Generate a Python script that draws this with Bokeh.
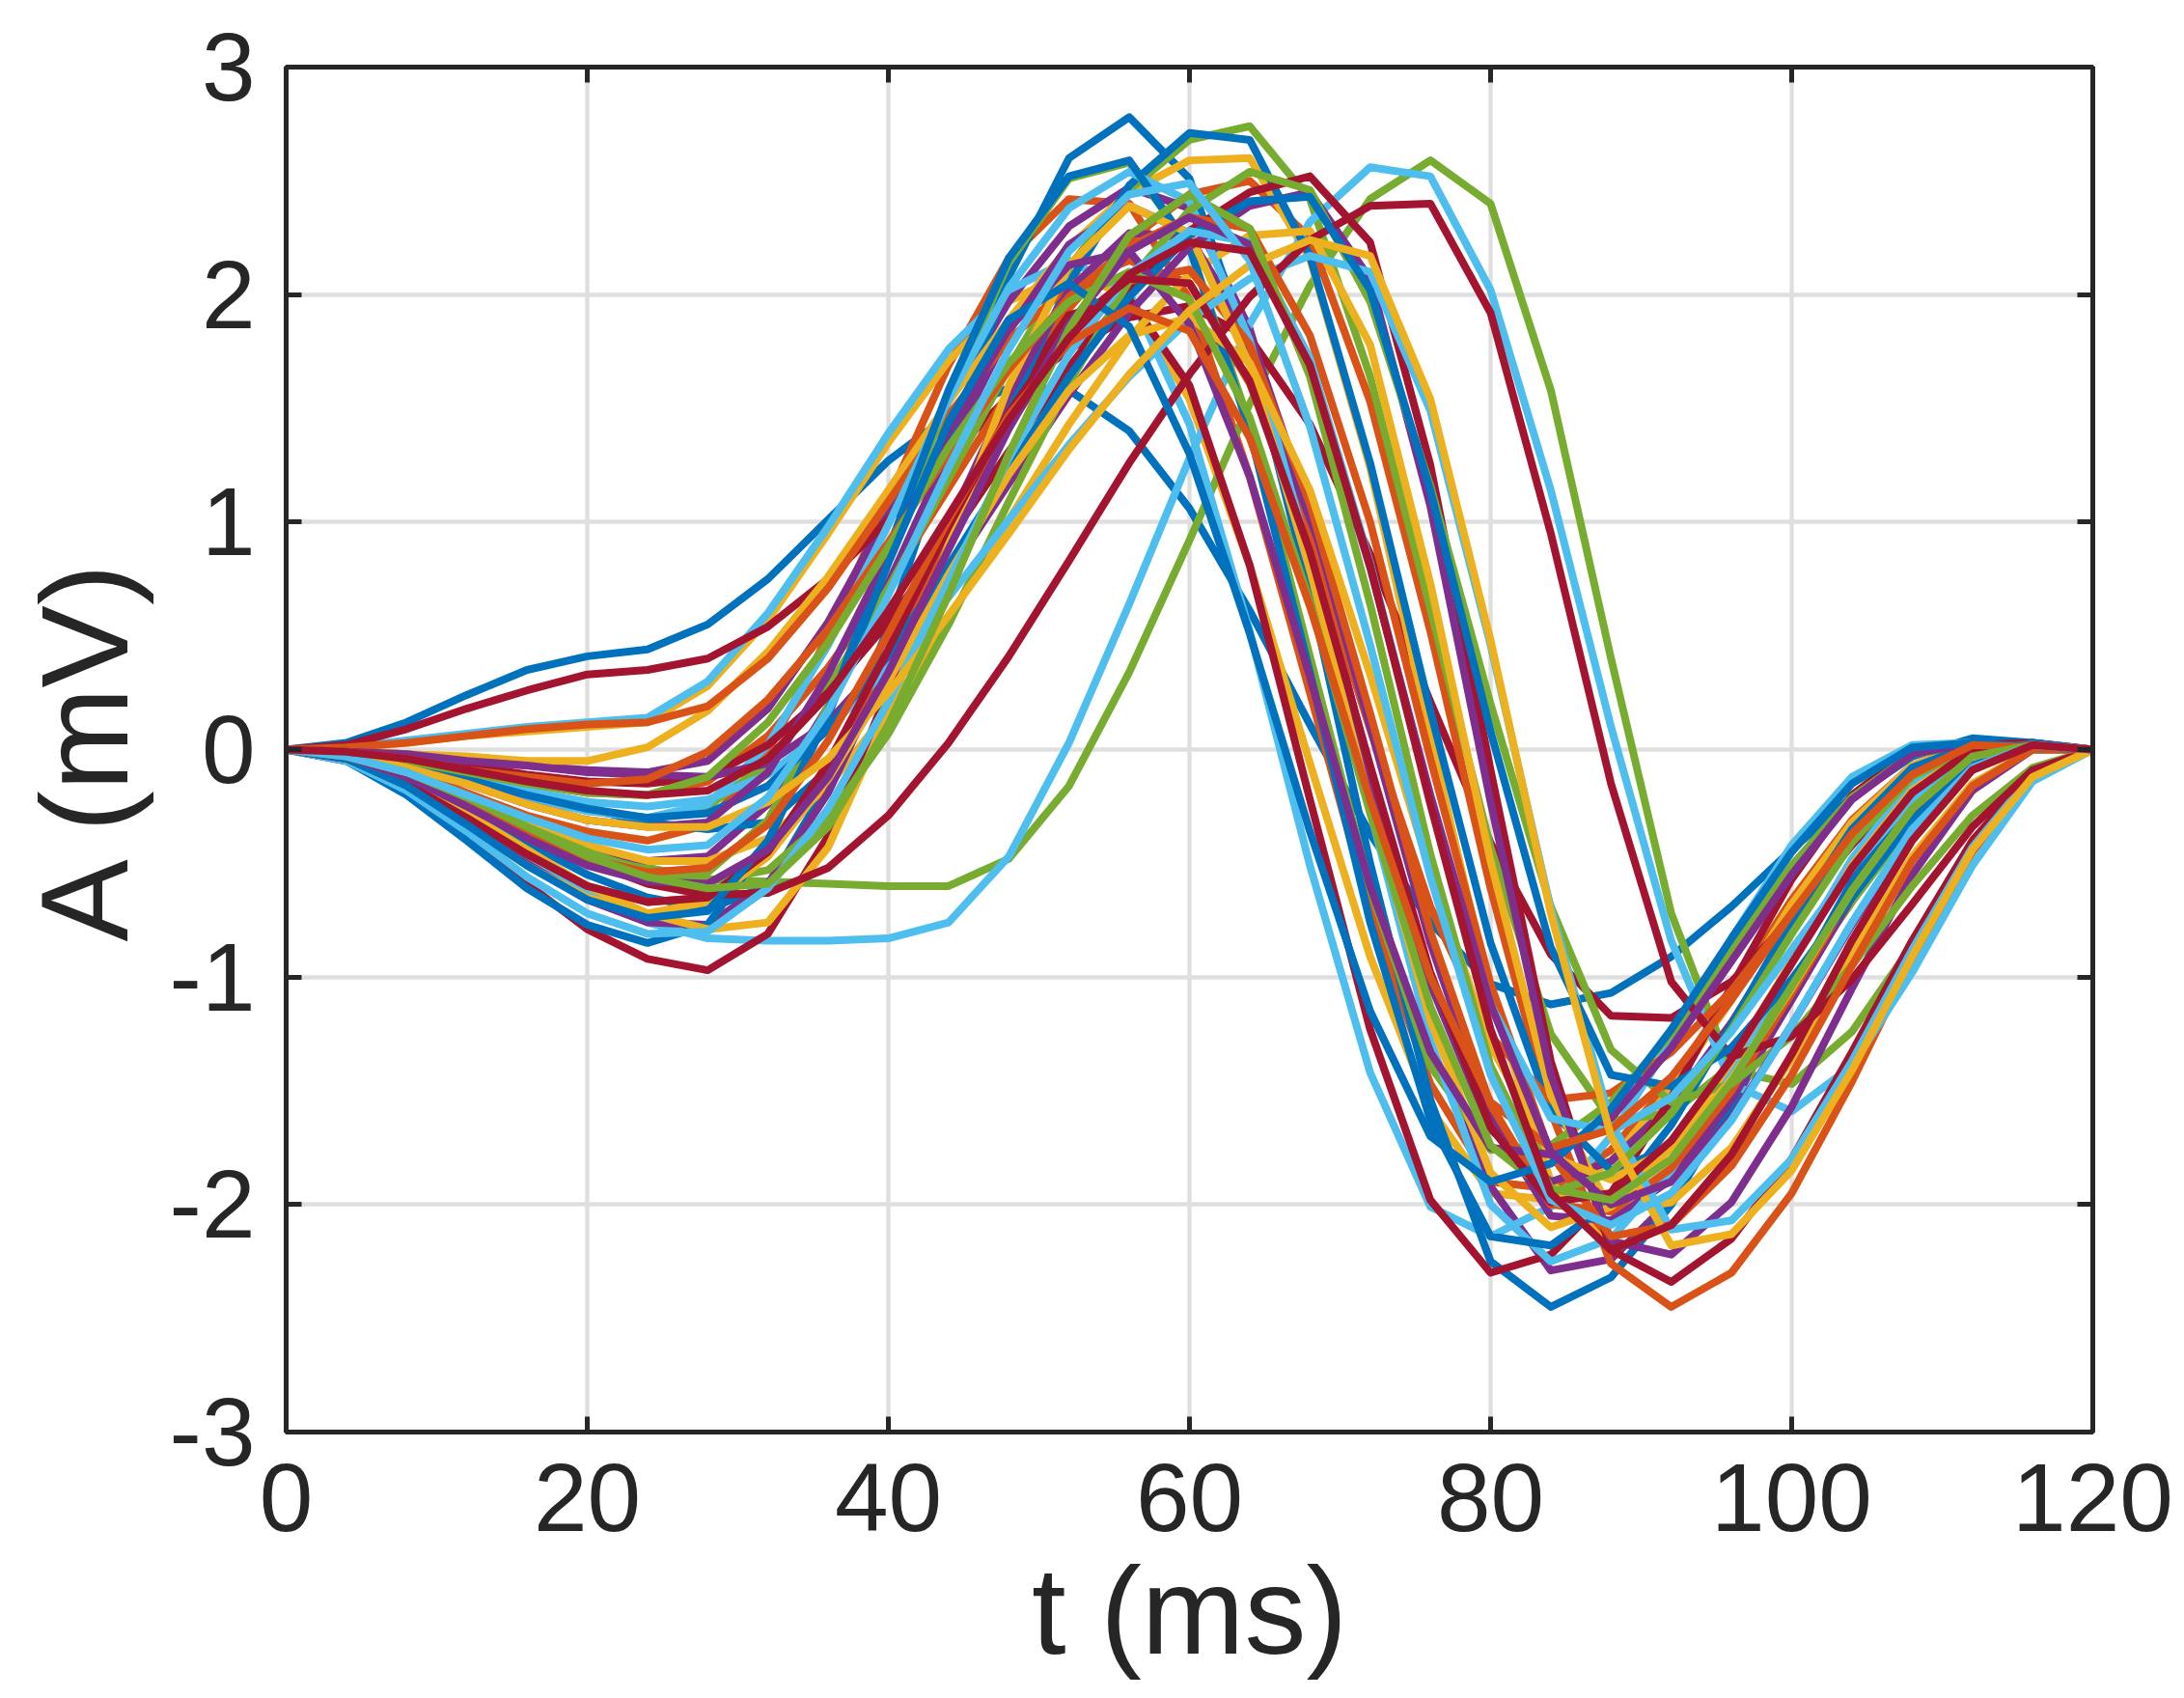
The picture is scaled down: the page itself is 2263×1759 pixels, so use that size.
from bokeh.plotting import figure
from bokeh.models import Range1d, LinearAxis, FixedTicker
from bokeh.embed import file_html
from bokeh.resources import INLINE

# time axis (ms), common sampling of every waveform
t_ms = [0, 4, 8, 12, 16, 20, 24, 28, 32, 36, 40, 44, 48, 52, 56, 60,
        64, 68, 72, 76, 80, 84, 88, 92, 96, 100, 104, 108, 112, 116, 120]

x_ticks = [0, 20, 40, 60, 80, 100, 120]
x_tick_labels = ["0", "20", "40", "60", "80", "100", "120"]
y_ticks = [-3, -2, -1, 0, 1, 2, 3]
y_tick_labels = ["-3", "-2", "-1", "0", "1", "2", "3"]

# waveforms (mV)
blue_1 = [0, 0.03, 0.12, 0.24, 0.35, 0.41, 0.44, 0.55, 0.75, 1.01, 1.27, 1.47, 1.59, 1.58, 1.40, 1.06, 0.61, 0.11, -0.37, -0.76, -1.03, -1.12, -1.07, -0.91, -0.69, -0.44, -0.21, -0.03, 0.05, 0.03, 0]
blue_2 = [0, -0.03, -0.12, -0.26, -0.41, -0.55, -0.65, -0.70, -0.60, -0.15, 0.54, 1.34, 2.08, 2.60, 2.78, 2.51, 1.75, 0.69, -0.50, -1.54, -2.25, -2.45, -2.32, -2.00, -1.56, -1.06, -0.58, -0.21, 0.01, 0.02, 0]
blue_3 = [0, -0.02, -0.06, -0.12, -0.19, -0.26, -0.32, -0.35, -0.32, -0.09, 0.34, 0.89, 1.49, 2.05, 2.48, 2.71, 2.68, 2.17, 1.26, 0.17, -0.85, -1.59, -1.85, -1.75, -1.47, -1.07, -0.64, -0.27, -0.03, 0.03, 0]
blue_4 = [0, -0.05, -0.20, -0.40, -0.61, -0.77, -0.85, -0.77, -0.41, 0.17, 0.88, 1.58, 2.16, 2.52, 2.59, 2.21, 1.40, 0.34, -0.76, -1.63, -2.14, -2.18, -1.99, -1.65, -1.21, -0.75, -0.35, -0.08, 0.02, 0.01, 0]
blue_5 = [0, -0.02, -0.07, -0.13, -0.20, -0.26, -0.30, -0.28, -0.16, 0.09, 0.42, 0.81, 1.23, 1.64, 1.99, 2.26, 2.41, 2.43, 2.02, 1.14, 0.08, -0.87, -1.43, -1.48, -1.31, -1.01, -0.65, -0.31, -0.07, 0.02, 0]
blue_6 = [0, -0.04, -0.16, -0.33, -0.51, -0.66, -0.74, -0.71, -0.40, 0.15, 0.82, 1.44, 1.89, 2.05, 1.86, 1.30, 0.51, -0.36, -1.15, -1.70, -1.90, -1.82, -1.58, -1.23, -0.83, -0.45, -0.15, 0.01, 0.03, 0.01, 0]

orange_1 = [0, -0.02, -0.09, -0.19, -0.29, -0.36, -0.40, -0.33, -0.01, 0.50, 1.10, 1.69, 2.16, 2.42, 2.40, 1.98, 1.20, 0.25, -0.71, -1.47, -1.90, -1.93, -1.76, -1.46, -1.07, -0.66, -0.31, -0.07, 0.02, 0.01, 0]
orange_2 = [0, -0.01, -0.05, -0.10, -0.15, -0.19, -0.20, -0.14, 0.06, 0.36, 0.73, 1.15, 1.57, 1.94, 2.24, 2.44, 2.50, 2.25, 1.53, 0.52, -0.61, -1.59, -2.26, -2.45, -2.30, -1.95, -1.46, -0.92, -0.45, -0.12, 0]
orange_3 = [0, 0.01, 0.03, 0.06, 0.09, 0.11, 0.12, 0.19, 0.40, 0.71, 1.09, 1.47, 1.80, 2.04, 2.15, 2.05, 1.61, 0.92, 0.09, -0.69, -1.26, -1.54, -1.51, -1.33, -1.06, -0.72, -0.40, -0.14, 0.00, 0.02, 0]
orange_4 = [0, -0.04, -0.15, -0.30, -0.46, -0.60, -0.67, -0.65, -0.46, -0.09, 0.39, 0.92, 1.42, 1.82, 2.06, 2.11, 1.78, 1.08, 0.16, -0.80, -1.56, -2.00, -2.03, -1.84, -1.50, -1.07, -0.63, -0.26, -0.03, 0.02, 0]
orange_5 = [0, -0.01, -0.04, -0.09, -0.12, -0.15, -0.13, -0.01, 0.22, 0.53, 0.91, 1.30, 1.67, 1.99, 2.21, 2.34, 2.29, 1.82, 1.00, -0.04, -1.03, -1.78, -2.14, -2.09, -1.83, -1.43, -0.95, -0.49, -0.16, 0.00, 0]
orange_6 = [0, -0.03, -0.12, -0.24, -0.37, -0.48, -0.54, -0.52, -0.33, 0.04, 0.51, 1.01, 1.47, 1.79, 1.94, 1.84, 1.37, 0.63, -0.22, -1.00, -1.55, -1.75, -1.67, -1.44, -1.10, -0.72, -0.37, -0.11, 0.02, 0.01, 0]

yellow_1 = [0, 0.01, 0.03, 0.06, 0.08, 0.10, 0.12, 0.28, 0.57, 0.95, 1.35, 1.71, 1.97, 2.10, 1.99, 1.54, 0.81, -0.06, -0.91, -1.58, -1.95, -1.98, -1.81, -1.49, -1.10, -0.68, -0.32, -0.07, 0.02, 0.01, 0]
yellow_2 = [0, 0.00, -0.02, -0.03, -0.05, -0.05, 0.01, 0.17, 0.43, 0.76, 1.14, 1.53, 1.89, 2.21, 2.45, 2.59, 2.60, 2.16, 1.24, 0.06, -1.08, -1.90, -2.20, -2.09, -1.78, -1.34, -0.84, -0.40, -0.09, 0.02, 0]
yellow_3 = [0, -0.03, -0.10, -0.21, -0.32, -0.42, -0.49, -0.49, -0.39, -0.16, 0.17, 0.57, 1.01, 1.43, 1.81, 2.09, 2.26, 2.28, 1.78, 0.73, -0.49, -1.52, -2.03, -1.99, -1.75, -1.36, -0.90, -0.47, -0.15, 0.00, 0]
yellow_4 = [0, -0.03, -0.13, -0.28, -0.44, -0.60, -0.72, -0.79, -0.76, -0.43, 0.16, 0.90, 1.60, 2.13, 2.39, 2.27, 1.69, 0.79, -0.24, -1.19, -1.86, -2.10, -2.01, -1.75, -1.37, -0.93, -0.51, -0.18, 0.00, 0.02, 0]
yellow_5 = [0, -0.04, -0.17, -0.34, -0.51, -0.65, -0.72, -0.67, -0.47, -0.13, 0.30, 0.77, 1.21, 1.58, 1.82, 1.90, 1.70, 1.14, 0.33, -0.54, -1.30, -1.79, -1.89, -1.75, -1.45, -1.05, -0.62, -0.26, -0.03, 0.02, 0]
yellow_6 = [0, -0.02, -0.08, -0.15, -0.24, -0.31, -0.34, -0.34, -0.23, -0.04, 0.25, 0.59, 0.95, 1.32, 1.65, 1.93, 2.13, 2.24, 2.17, 1.54, 0.48, -0.72, -1.70, -2.18, -2.13, -1.85, -1.41, -0.91, -0.44, -0.12, 0]

purple_1 = [0, -0.01, -0.02, -0.05, -0.07, -0.09, -0.10, -0.05, 0.18, 0.56, 1.04, 1.53, 1.97, 2.30, 2.47, 2.38, 1.85, 0.96, -0.11, -1.15, -1.92, -2.29, -2.24, -1.98, -1.57, -1.08, -0.59, -0.22, -0.01, 0.02, 0]
purple_2 = [0, -0.03, -0.11, -0.22, -0.34, -0.44, -0.49, -0.47, -0.24, 0.19, 0.73, 1.31, 1.84, 2.22, 2.39, 2.27, 1.72, 0.86, -0.12, -1.03, -1.67, -1.90, -1.81, -1.56, -1.20, -0.78, -0.40, -0.12, 0.01, 0.01, 0]
purple_3 = [0, -0.04, -0.16, -0.32, -0.50, -0.66, -0.76, -0.77, -0.59, -0.19, 0.37, 0.99, 1.56, 2.02, 2.27, 2.25, 1.83, 1.05, 0.10, -0.85, -1.62, -2.05, -2.07, -1.89, -1.54, -1.10, -0.65, -0.27, -0.03, 0.02, 0]
purple_4 = [0, -0.01, -0.02, -0.05, -0.07, -0.10, -0.11, -0.12, -0.06, 0.12, 0.41, 0.77, 1.17, 1.56, 1.92, 2.21, 2.39, 2.45, 2.07, 1.07, -0.23, -1.43, -2.16, -2.22, -1.99, -1.57, -1.05, -0.55, -0.18, 0.00, 0]
purple_5 = [0, -0.02, -0.08, -0.15, -0.24, -0.31, -0.34, -0.32, -0.10, 0.33, 0.86, 1.40, 1.85, 2.13, 2.19, 1.87, 1.20, 0.32, -0.60, -1.33, -1.75, -1.78, -1.62, -1.31, -0.93, -0.55, -0.22, -0.02, 0.03, 0.01, 0]
purple_6 = [0, -0.03, -0.12, -0.25, -0.39, -0.51, -0.58, -0.59, -0.44, -0.12, 0.34, 0.88, 1.41, 1.87, 2.19, 2.34, 2.22, 1.67, 0.80, -0.20, -1.12, -1.77, -2.00, -1.90, -1.62, -1.21, -0.77, -0.36, -0.08, 0.02, 0]

green_1 = [0, -0.03, -0.10, -0.20, -0.32, -0.44, -0.52, -0.57, -0.58, -0.59, -0.60, -0.60, -0.48, -0.16, 0.34, 0.92, 1.52, 2.04, 2.42, 2.59, 2.40, 1.58, 0.40, -0.72, -1.41, -1.47, -1.24, -0.86, -0.44, -0.12, 0]
green_2 = [0, -0.02, -0.07, -0.14, -0.21, -0.27, -0.30, -0.25, -0.06, 0.27, 0.71, 1.19, 1.68, 2.12, 2.46, 2.68, 2.74, 2.42, 1.64, 0.62, -0.43, -1.25, -1.63, -1.60, -1.39, -1.05, -0.67, -0.32, -0.07, 0.02, 0]
green_3 = [0, -0.03, -0.11, -0.23, -0.35, -0.46, -0.53, -0.54, -0.31, 0.19, 0.85, 1.55, 2.14, 2.51, 2.58, 2.21, 1.43, 0.41, -0.61, -1.39, -1.76, -1.74, -1.55, -1.25, -0.88, -0.51, -0.21, -0.02, 0.02, 0.01, 0]
green_4 = [0, -0.03, -0.10, -0.21, -0.34, -0.45, -0.54, -0.58, -0.53, -0.30, 0.07, 0.55, 1.09, 1.61, 2.06, 2.37, 2.54, 2.46, 1.97, 1.16, 0.20, -0.69, -1.32, -1.55, -1.47, -1.26, -0.95, -0.60, -0.29, -0.08, 0]
green_5 = [0, -0.01, -0.05, -0.10, -0.15, -0.19, -0.20, -0.12, 0.12, 0.47, 0.89, 1.33, 1.70, 1.97, 2.10, 1.98, 1.46, 0.65, -0.28, -1.13, -1.74, -1.95, -1.86, -1.60, -1.23, -0.81, -0.41, -0.12, 0.01, 0.01, 0]
green_6 = [0, -0.03, -0.10, -0.21, -0.34, -0.47, -0.56, -0.61, -0.59, -0.34, 0.11, 0.68, 1.30, 1.85, 2.26, 2.44, 2.29, 1.64, 0.64, -0.46, -1.39, -1.93, -1.98, -1.80, -1.46, -1.04, -0.62, -0.26, -0.03, 0.02, 0]

lightblue_1 = [0, 0.01, 0.04, 0.07, 0.10, 0.12, 0.14, 0.30, 0.60, 0.98, 1.39, 1.76, 2.02, 2.15, 2.01, 1.43, 0.52, -0.51, -1.42, -2.01, -2.14, -2.01, -1.70, -1.28, -0.83, -0.42, -0.12, 0.02, 0.03, 0.01, 0]
lightblue_2 = [0, -0.04, -0.14, -0.29, -0.46, -0.63, -0.76, -0.83, -0.84, -0.84, -0.83, -0.76, -0.47, 0.03, 0.64, 1.28, 1.87, 2.32, 2.56, 2.52, 2.02, 1.14, 0.10, -0.84, -1.47, -1.59, -1.39, -0.98, -0.51, -0.14, 0]
lightblue_3 = [0, -0.02, -0.07, -0.14, -0.21, -0.27, -0.30, -0.24, 0.02, 0.46, 0.99, 1.54, 2.03, 2.38, 2.54, 2.41, 1.80, 0.84, -0.27, -1.28, -2.00, -2.25, -2.15, -1.85, -1.42, -0.93, -0.48, -0.14, 0.01, 0.01, 0]
lightblue_4 = [0, -0.02, -0.06, -0.12, -0.18, -0.23, -0.25, -0.22, -0.11, 0.09, 0.36, 0.67, 1.01, 1.34, 1.64, 1.89, 2.07, 2.17, 2.10, 1.49, 0.46, -0.70, -1.64, -2.11, -2.07, -1.80, -1.37, -0.88, -0.43, -0.11, 0]
lightblue_5 = [0, -0.05, -0.18, -0.36, -0.56, -0.72, -0.81, -0.80, -0.61, -0.26, 0.21, 0.74, 1.28, 1.74, 2.09, 2.28, 2.23, 1.72, 0.82, -0.22, -1.12, -1.62, -1.68, -1.53, -1.24, -0.88, -0.52, -0.22, -0.02, 0.02, 0]
lightblue_6 = [0, -0.03, -0.10, -0.20, -0.30, -0.39, -0.44, -0.42, -0.21, 0.17, 0.68, 1.24, 1.76, 2.19, 2.44, 2.49, 2.15, 1.42, 0.46, -0.56, -1.43, -1.98, -2.09, -1.95, -1.63, -1.21, -0.76, -0.35, -0.08, 0.02, 0]

darkred_1 = [0, 0.02, 0.09, 0.18, 0.26, 0.33, 0.35, 0.40, 0.54, 0.75, 1.01, 1.29, 1.55, 1.76, 1.90, 1.95, 1.81, 1.43, 0.86, 0.21, -0.41, -0.90, -1.17, -1.18, -1.02, -0.74, -0.42, -0.14, 0.02, 0.03, 0]
darkred_2 = [0, -0.05, -0.18, -0.38, -0.59, -0.79, -0.92, -0.97, -0.81, -0.38, 0.26, 0.94, 1.53, 1.91, 1.98, 1.60, 0.81, -0.22, -1.23, -1.98, -2.30, -2.22, -1.95, -1.53, -1.04, -0.57, -0.20, 0.00, 0.03, 0.01, 0]
darkred_3 = [0, -0.01, -0.03, -0.07, -0.11, -0.14, -0.15, -0.12, 0.02, 0.25, 0.56, 0.92, 1.31, 1.68, 2.02, 2.28, 2.45, 2.52, 2.23, 1.25, -0.09, -1.37, -2.20, -2.34, -2.15, -1.80, -1.33, -0.84, -0.40, -0.10, 0]
darkred_4 = [0, -0.03, -0.11, -0.22, -0.36, -0.49, -0.59, -0.64, -0.63, -0.52, -0.29, 0.03, 0.41, 0.83, 1.26, 1.65, 1.99, 2.24, 2.39, 2.40, 1.92, 0.95, -0.15, -1.02, -1.35, -1.26, -1.01, -0.68, -0.34, -0.09, 0]
darkred_5 = [0, -0.04, -0.15, -0.30, -0.46, -0.60, -0.67, -0.65, -0.45, -0.06, 0.44, 0.98, 1.48, 1.86, 2.07, 2.05, 1.62, 0.87, -0.07, -0.98, -1.66, -1.99, -1.95, -1.72, -1.36, -0.94, -0.52, -0.19, 0.00, 0.02, 0]
darkred_6 = [0, -0.01, -0.04, -0.09, -0.14, -0.18, -0.20, -0.18, -0.04, 0.24, 0.61, 1.03, 1.45, 1.81, 2.09, 2.23, 2.19, 1.69, 0.81, -0.24, -1.23, -1.95, -2.20, -2.09, -1.78, -1.34, -0.84, -0.40, -0.09, 0.02, 0]

palette = ["#0072BD", "#D95319", "#EDB120", "#7E2F8E", "#77AC30", "#4DBEEE", "#A2142F"]
groups = [
    [blue_1, blue_2, blue_3, blue_4, blue_5, blue_6],
    [orange_1, orange_2, orange_3, orange_4, orange_5, orange_6],
    [yellow_1, yellow_2, yellow_3, yellow_4, yellow_5, yellow_6],
    [purple_1, purple_2, purple_3, purple_4, purple_5, purple_6],
    [green_1, green_2, green_3, green_4, green_5, green_6],
    [lightblue_1, lightblue_2, lightblue_3, lightblue_4, lightblue_5, lightblue_6],
    [darkred_1, darkred_2, darkred_3, darkred_4, darkred_5, darkred_6],
]

FONT = "Liberation Sans"
INK = "#262626"

p = figure(width=2255, height=1751, output_backend="svg", toolbar_location=None,
           x_range=Range1d(0, 120), y_range=Range1d(-3, 3),
           min_border_left=296, min_border_right=87, min_border_top=69, min_border_bottom=268)
p.background_fill_color = "white"
p.border_fill_color = "white"
p.outline_line_color = INK
p.outline_line_width = 5
p.outline_line_alpha = 1.0

p.xaxis.ticker = FixedTicker(ticks=x_ticks)
p.yaxis.ticker = FixedTicker(ticks=y_ticks)
p.xaxis.major_label_overrides = {v: s for v, s in zip(x_ticks, x_tick_labels)}
p.yaxis.major_label_overrides = {v: s for v, s in zip(y_ticks, y_tick_labels)}
p.xaxis.axis_label = "t (ms)"
p.yaxis.axis_label = "A (mV)"

for ax in (p.xaxis, p.yaxis):
    ax.axis_label_text_font = FONT
    ax.axis_label_text_font_style = "normal"
    ax.axis_label_text_font_size = "128px"
    ax.axis_label_text_color = INK
    ax.major_label_text_font = FONT
    ax.major_label_text_font_size = "100px"
    ax.major_label_text_color = INK
    ax.axis_line_color = INK
    ax.axis_line_width = 5
    ax.major_tick_line_color = INK
    ax.major_tick_line_width = 5
    ax.major_tick_in = 16
    ax.major_tick_out = 0
    ax.minor_tick_line_color = None
p.yaxis.major_label_standoff = 32
p.yaxis.axis_label_standoff = 14
p.xaxis.major_label_standoff = 33
p.xaxis.axis_label_standoff = 8

# mirror axes (box on): inward ticks only, no labels
for loc, tk in (("right", y_ticks), ("above", x_ticks)):
    ax = LinearAxis(ticker=FixedTicker(ticks=tk))
    ax.major_label_text_color = None
    ax.major_label_text_font_size = "10px"
    ax.major_label_standoff = 0
    ax.axis_line_color = INK
    ax.axis_line_width = 5
    ax.major_tick_line_color = INK
    ax.major_tick_line_width = 5
    ax.major_tick_in = 16
    ax.major_tick_out = 0
    ax.minor_tick_line_color = None
    p.add_layout(ax, loc)

p.grid.grid_line_color = "#DFDFDF"
p.grid.grid_line_width = 4.5

for k in range(6):
    for ci, grp in enumerate(groups):
        p.line(t_ms, grp[k], line_color=palette[ci], line_width=8, line_join="round", line_cap="round")

open("out.html", "w").write(file_html(p, INLINE))
